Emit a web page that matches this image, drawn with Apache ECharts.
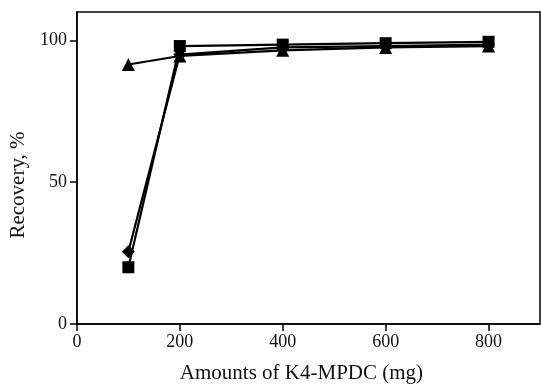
<!DOCTYPE html>
<html>
<head>
<meta charset="utf-8">
<script src="https://cdn.jsdelivr.net/npm/echarts@6/dist/echarts.min.js"></script>
<style>
  html, body { margin: 0; padding: 0; background: #fff; }
  #chart { width: 541px; height: 389px; }
</style>
</head>
<body>
<div id="chart"></div>
<script>
// amounts of K4-MPDC, mg
var amounts = [100, 200, 400, 600, 800];
// recovery, %
var squareVals = [20, 98, 98.5, 99, 99.5];
var diamondVals = [25.5, 95, 97.5, 98, 98.5];
var triangleVals = [91.5, 94.5, 96.5, 97.5, 98];
var xTicks = [0, 200, 400, 600, 800];
var yTicks = [0, 50, 100];

function pairs(vals) {
  return amounts.map(function (a, i) { return [a, vals[i]]; });
}

function line(name, vals, symbol, size) {
  return {
    name: name,
    type: 'line',
    data: pairs(vals),
    symbol: symbol,
    symbolSize: size,
    lineStyle: { color: '#000', width: 2.2 },
    itemStyle: { color: '#000' },
    animation: false
  };
}

var font = 'Liberation Serif';
var chart = echarts.init(document.getElementById('chart'));
chart.setOption({
  grid: {
    left: 72, top: 12, right: 1, bottom: 56,
    show: true, borderColor: '#000', borderWidth: 1.5
  },
  xAxis: {
    type: 'value', min: 0, max: 900,
    name: 'Amounts of K4-MPDC (mg)', nameLocation: 'middle', nameGap: 39,
    nameTextStyle: { fontFamily: font, fontSize: 21, color: '#111', padding: [0, 14, 0, 0] },
    axisLine: { lineStyle: { color: '#000', width: 1.5 } },
    axisTick: { show: true, length: 7, customValues: xTicks, lineStyle: { color: '#000', width: 1.5 } },
    axisLabel: { customValues: xTicks, fontFamily: font, fontSize: 18, color: '#111', margin: 9 },
    splitLine: { show: false }
  },
  yAxis: {
    type: 'value', min: 0, max: 110,
    name: 'Recovery, %', nameLocation: 'middle', nameGap: 41, nameRotate: 90,
    nameTextStyle: { fontFamily: font, fontSize: 21, color: '#111', padding: [0, 34, 0, 0] },
    axisLine: { show: true, lineStyle: { color: '#000', width: 1.5 } },
    axisTick: { show: true, length: 7, customValues: yTicks, lineStyle: { color: '#000', width: 1.5 } },
    axisLabel: { customValues: yTicks, fontFamily: font, fontSize: 18, color: '#111', margin: 10 },
    splitLine: { show: false }
  },
  series: [
    line('triangle', triangleVals, 'triangle', 13),
    line('diamond', diamondVals, 'diamond', 13),
    line('square', squareVals, 'rect', 12)
  ]
});
</script>
</body>
</html>
